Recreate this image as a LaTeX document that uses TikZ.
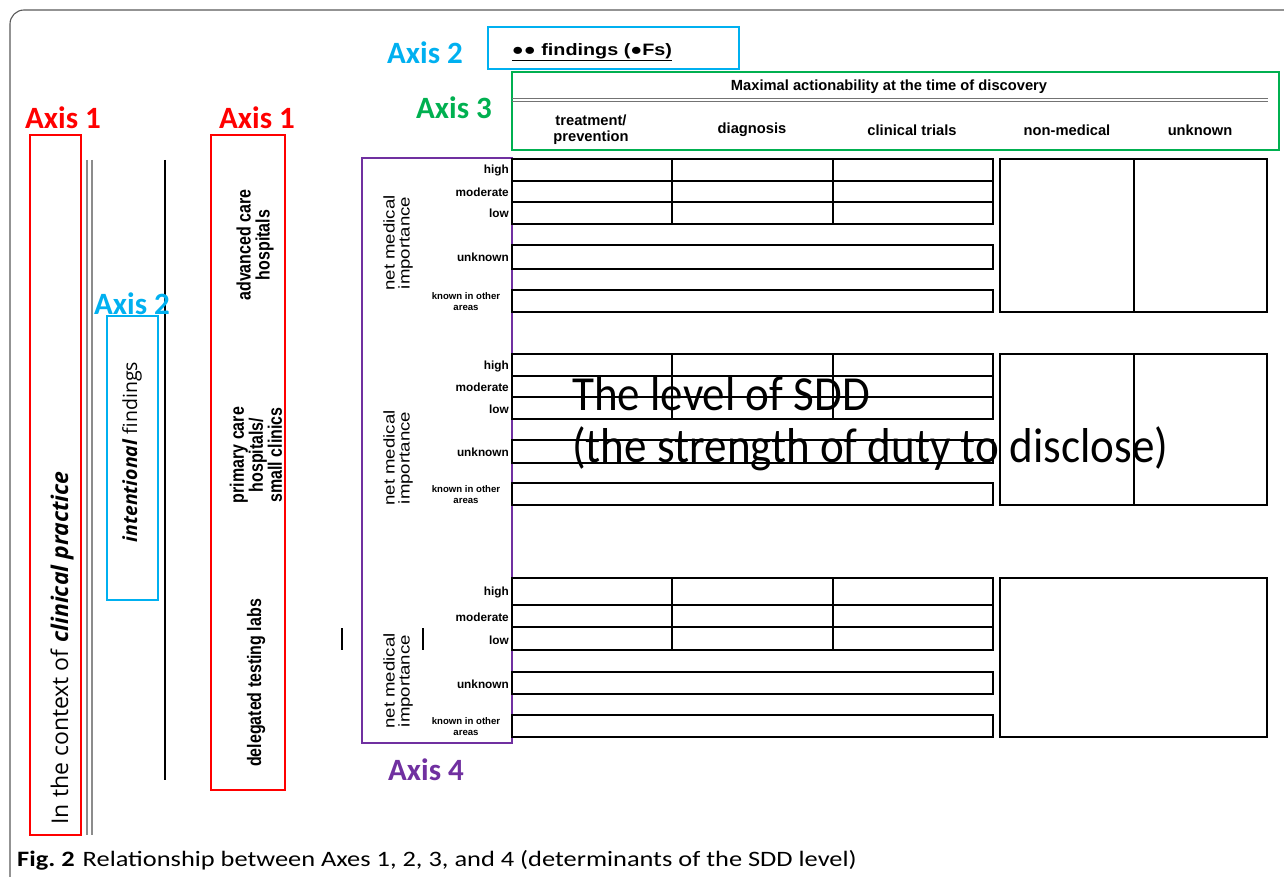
\documentclass[tikz,border=0pt]{standalone}
\usepackage{fontspec}
\setmainfont{Liberation Sans}
\newfontfamily\calfont{Carlito}
\newfontfamily\calwide[FakeStretch=1.2]{Carlito}
\newfontfamily\calnarrow[FakeStretch=0.92]{Carlito}
\newfontfamily\osfont{Open Sans}
\newfontfamily\arialnarrow[FakeStretch=0.82]{Liberation Sans}
\newfontfamily\arialwide[FakeStretch=1.2]{Liberation Sans}
\definecolor{axred}{RGB}{255,0,0}
\definecolor{axcyan}{RGB}{0,176,240}
\definecolor{axgreen}{RGB}{0,176,80}
\definecolor{axpurple}{RGB}{112,48,160}
\newcommand{\fs}[2]{\fontsize{#1}{#2}\selectfont}
\tikzset{
  axislabel/.style={font=\calfont\bfseries\fs{31}{31}, inner sep=0pt},
  cell/.style={draw=black, line width=1.6pt},
  rowlab/.style={font=\bfseries\fs{11.8}{12}, anchor=east, inner sep=1pt},
  smalllab/.style={font=\bfseries\fs{9.6}{11}, align=center, inner sep=0pt},
  nmi/.style={font=\arialwide\fs{15.5}{15}, align=center, rotate=90, inner sep=0pt},
  colhead/.style={font=\bfseries\fs{14.7}{16}, align=center, inner sep=0pt},
  hosp/.style={font=\arialnarrow\bfseries\fs{19.5}{19}, align=center, rotate=90, inner sep=0pt},
}
\begin{document}
\begin{tikzpicture}[x=1pt,y=-1pt]
\useasboundingbox (0,0) rectangle (1284,877);
\clip (0,0) rectangle (1284,877);
% outer frame
\draw[black!65, line width=1.1pt, rounded corners=14pt] (10,10) rectangle (1300,895);

% ---------- Axis 1 (left) ----------
\node[axislabel, text=axred] (ax1a) at (63,118) {Axis 1};
\draw[axred, line width=1.4pt] (30,135) rectangle (81,835);
\node[rotate=90, font=\osfont\fs{23}{24}, inner sep=0pt] (ctx) at (62,648)
  {In the context of \textbf{\textit{clinical practice}}};
\draw[black!45, line width=1.3pt] (87,160) -- (87,835);
\draw[black!45, line width=1.3pt] (92,160) -- (92,835);

% ---------- Axis 2 (left) ----------
\draw[black, line width=1.6pt] (165,160) -- (165,780);
\node[axislabel, text=axcyan] (ax2a) at (132,304) {Axis 2};
\draw[axcyan, line width=1.3pt] (107,316) rectangle (158,600);
\node[rotate=90, font=\osfont\fs{19.5}{21}, inner sep=0pt] (intent) at (132,452)
  {\textbf{\textit{intentional}} findings};

% ---------- Axis 1 (right) ----------
\node[axislabel, text=axred] (ax1b) at (257,118) {Axis 1};
\draw[axred, line width=1.4pt] (211,135) rectangle (285,790);
\node[hosp] (adv) at (255,245) {advanced care\\hospitals};
\node[hosp] (prim) at (256,455) {primary care\\hospitals/\\small clinics};
\node[hosp] (deleg) at (256,683) {delegated testing labs};

% ---------- Axis 2 (top) ----------
\node[axislabel, text=axcyan] (ax2b) at (425,53) {Axis 2};
\draw[axcyan, line width=1.3pt] (488,27) rectangle (739,69);
\node[font=\arialwide\bfseries\fs{16.5}{18}, inner sep=0pt] (find) at (592,52)
  {\underline{●● findings (●Fs)}};

% ---------- Axis 3 ----------
\node[axislabel, text=axgreen] (ax3) at (454,108) {Axis 3};
\draw[axgreen, line width=1.3pt] (512,72) rectangle (1279,150);
\node[colhead] (maxact) at (889,87) {Maximal actionability at the time of discovery};
\draw[black!55, line width=1.2pt] (512,98.5) -- (1268,98.5);
\draw[black!55, line width=1.2pt] (512,101.5) -- (1268,101.5);
\node[colhead] (c1) at (591,130) {treatment/\\prevention};
\node[colhead] (c2) at (752,130) {diagnosis};
\node[colhead] (c3) at (912,130) {clinical trials};
\node[colhead] (c4) at (1067,130) {non-medical};
\node[colhead] (c5) at (1200,130) {unknown};

% ---------- Axis 4 ----------
\draw[axpurple, line width=1.4pt] (362,158) rectangle (512,743);
\node[axislabel, text=axpurple] (ax4) at (426,770) {Axis 4};

% ---------- Block 1 ----------
\foreach \ya/\yb in {159/181,181/202,202/224}{
  \draw[cell] (512,\ya) rectangle (993,\yb);
  \draw[cell] (672,\ya) -- (672,\yb);
  \draw[cell] (833,\ya) -- (833,\yb);
}
\draw[cell] (512,245) rectangle (993,269);
\draw[cell] (512,290) rectangle (993,312);
\draw[cell] (1000,159) rectangle (1267,312);
\draw[cell] (1134,159) -- (1134,312);
\node[rowlab] (h1) at (510,170) {high};
\node[rowlab] (m1) at (510,192) {moderate};
\node[rowlab] (l1) at (510,213) {low};
\node[rowlab] (u1) at (510,257) {unknown};
\node[smalllab] (k1) at (466,302) {known in other\\areas};
\node[nmi] (n1) at (398,243) {net medical\\importance};

% ---------- Block 2 ----------
\foreach \ya/\yb in {354/376,376/397,397/419}{
  \draw[cell] (512,\ya) rectangle (993,\yb);
  \draw[cell] (672,\ya) -- (672,\yb);
  \draw[cell] (833,\ya) -- (833,\yb);
}
\draw[cell] (512,440) rectangle (993,463);
\draw[cell] (512,483) rectangle (993,505);
\draw[cell] (1000,354) rectangle (1267,505);
\draw[cell] (1134,354) -- (1134,505);
\node[rowlab] (h2) at (510,366) {high};
\node[rowlab] (m2) at (510,387) {moderate};
\node[rowlab] (l2) at (510,409) {low};
\node[rowlab] (u2) at (510,452) {unknown};
\node[smalllab] (k2) at (466,495) {known in other\\areas};
\node[nmi] (n2) at (398,458) {net medical\\importance};

% ---------- Block 3 ----------
\foreach \ya/\yb in {578/605,605/627,627/650}{
  \draw[cell] (512,\ya) rectangle (993,\yb);
  \draw[cell] (672,\ya) -- (672,\yb);
  \draw[cell] (833,\ya) -- (833,\yb);
}
\draw[cell] (512,672) rectangle (993,694);
\draw[cell] (512,715) rectangle (993,737);
\draw[cell] (1000,578) rectangle (1267,737);
\node[rowlab] (h3) at (510,592) {high};
\node[rowlab] (m3) at (510,617) {moderate};
\node[rowlab] (l3) at (510,640) {low};
\node[rowlab] (u3) at (510,684) {unknown};
\node[smalllab] (k3) at (466,727) {known in other\\areas};
\node[nmi] (n3) at (398,681) {net medical\\importance};
\draw[black, line width=1.4pt] (342,628) -- (342,650);
\draw[black, line width=1.4pt] (423,628) -- (423,650);

% ---------- Overlay text ----------
\node[font=\calnarrow\fs{49}{52}, anchor=base west, inner sep=0pt] (sdd1) at (572,410) {The level of SDD};
\node[font=\calnarrow\fs{49}{52}, anchor=base west, inner sep=0pt] (sdd2) at (572,462) {(the strength of duty to disclose)};

% ---------- Caption ----------
\node[font=\calwide\fs{22}{24}, anchor=base west, inner sep=0pt] (cap) at (17,866)
  {\textbf{Fig.~2}\hspace{8pt}Relationship between Axes 1, 2, 3, and 4 (determinants of the SDD level)};
\end{tikzpicture}
\end{document}
